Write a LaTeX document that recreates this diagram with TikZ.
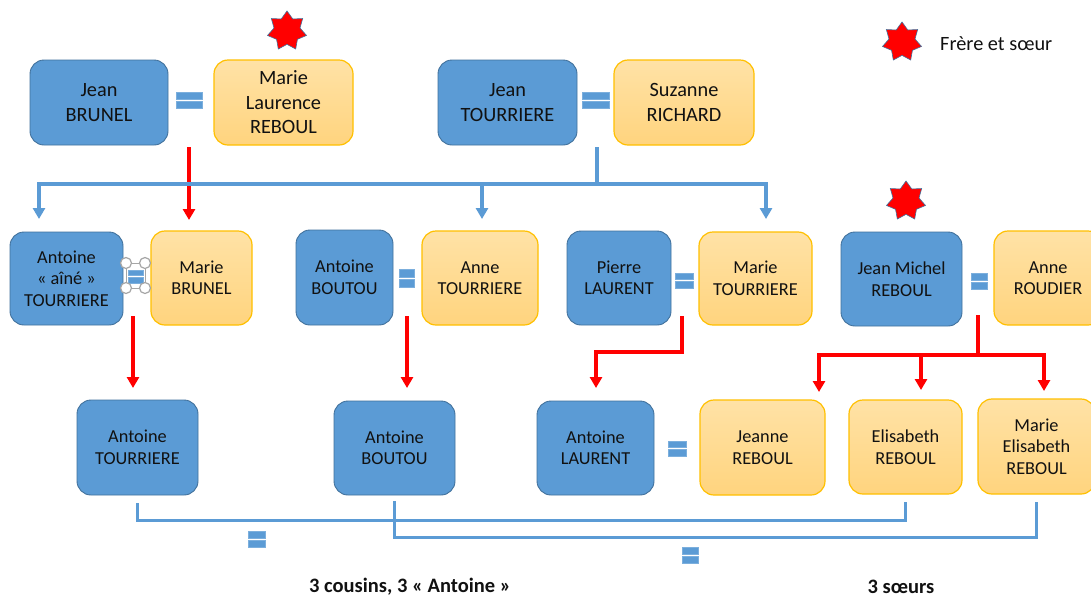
\documentclass[tikz,border=0pt]{standalone}
\usepackage{fontspec}
\setmainfont{Carlito}
\usetikzlibrary{shapes.geometric,arrows.meta}
\definecolor{pblue}{HTML}{5B9BD5}
\definecolor{pbluedk}{HTML}{41719C}
\definecolor{porange}{HTML}{FFC000}
\definecolor{otop}{HTML}{FFE2A6}
\definecolor{obot}{HTML}{FFD47E}
\definecolor{txt}{HTML}{111111}
\definecolor{hgray}{HTML}{A6A6A6}
\definecolor{pred}{HTML}{FF0000}
\newcommand\EqSgn[4]{%
  \path[eqbar] (#1,#3) rectangle (#2,{(#3+#4)/2-1});
  \path[eqbar] (#1,{(#3+#4)/2+1}) rectangle (#2,#4);}
\begin{document}
\begin{tikzpicture}[x=1pt,y=-1pt,
  box/.style={rounded corners=14pt, align=center, text=txt, inner sep=0pt,
    font=\fontsize{18.3}{21.5}\selectfont},
  bbox/.style={box, fill=pblue, draw=pbluedk, line width=0.9pt},
  obox/.style={box, draw=porange, line width=1.2pt, top color=otop, bottom color=obot},
  big/.style={font=\fontsize{20.3}{24.5}\selectfont},
  starsh/.style={star, star points=7, star point ratio=1.5, minimum size=40pt,
    inner sep=0pt, fill=pred, draw=pbluedk, line width=0.6pt},
  eqbar/.style={fill=pblue, draw=pblue!80!white, line width=0.4pt},
  redarr/.style={draw=pred, line width=3.3pt, -{Triangle[width=12pt,length=11pt]}},
  rline/.style={draw=pred, line width=3.3pt},
  bluearr/.style={draw=pblue, line width=3.3pt, -{Triangle[width=12pt,length=11pt]}},
  bline/.style={draw=pblue, line width=3.3pt},
  handle/.style={circle, draw=hgray, fill=white, line width=1.2pt, minimum size=11pt, inner sep=0pt},
  lbl/.style={text=txt, inner sep=0pt}
]
\clip (0,0) rectangle (1091,598);
\fill[white] (0,0) rectangle (1091,598);

% ---------- row 1
\node[bbox, big, minimum width=138pt, minimum height=85pt] (jb) at (99,102.5) {Jean\\BRUNEL};
\node[obox, big, minimum width=139pt, minimum height=85pt] (mlr) at (283.5,102.5) {Marie\\Laurence\\REBOUL};
\node[bbox, big, minimum width=139pt, minimum height=85pt] (jt) at (507.5,102.5) {Jean\\TOURRIERE};
\node[obox, big, minimum width=140pt, minimum height=85pt] (sr) at (684,102.5) {Suzanne\\RICHARD};
\EqSgn{176}{202}{92}{108}
\EqSgn{582}{609}{92}{108}
\node[starsh] (s1) at (287,31) {};

% legend
\node[starsh] (s3) at (902,42) {};
\node[lbl, anchor=west, font=\fontsize{20.3}{24}\selectfont] (leg) at (940,44) {Frère et sœur};

% ---------- row 2
\node[bbox, minimum width=113pt, minimum height=93pt] (aa) at (66.5,278.5) {Antoine\\« aîné »\\TOURRIERE};
\node[obox, minimum width=101pt, minimum height=94pt] (mb) at (201.5,278) {Marie\\BRUNEL};
\node[bbox, minimum width=97pt, minimum height=95pt] (ab) at (344.5,277.5) {Antoine\\BOUTOU};
\node[obox, minimum width=116pt, minimum height=94pt] (at) at (480,278) {Anne\\TOURRIERE};
\node[bbox, minimum width=104pt, minimum height=94pt] (pl) at (619,278) {Pierre\\LAURENT};
\node[obox, minimum width=113pt, minimum height=93pt] (mt) at (755.5,278.5) {Marie\\TOURRIERE};
\node[bbox, minimum width=121pt, minimum height=94pt] (jm) at (901.5,279) {Jean Michel\\REBOUL};
\node[obox, minimum width=108pt, minimum height=94pt] (ar) at (1048,278) {Anne\\ROUDIER};
\node[starsh] (s2) at (906,201) {};

% selection frame with handles
\draw[hgray, line width=1pt] (126,263) rectangle (145,288);
\EqSgn{128}{143}{270}{283}
\node[handle] (h1) at (126,263) {};
\node[handle] (h2) at (145,263) {};
\node[handle] (h3) at (126,288) {};
\node[handle] (h4) at (145,288) {};
\EqSgn{399}{414}{269}{287}
\EqSgn{675}{693}{273}{288}
\EqSgn{971}{987}{273}{289}

% ---------- row 3
\node[bbox, minimum width=121pt, minimum height=95pt] (at3) at (137.5,447.5) {Antoine\\TOURRIERE};
\node[bbox, minimum width=121pt, minimum height=94pt] (ab3) at (394.5,448) {Antoine\\BOUTOU};
\node[bbox, minimum width=117pt, minimum height=94pt] (al) at (595.5,448) {Antoine\\LAURENT};
\node[obox, minimum width=125pt, minimum height=95pt] (jr) at (762.5,447.5) {Jeanne\\REBOUL};
\node[obox, minimum width=113pt, minimum height=94pt] (er) at (905.5,447) {Elisabeth\\REBOUL};
\node[obox, minimum width=117pt, minimum height=95pt] (mer) at (1036.5,446.5) {Marie\\Elisabeth\\REBOUL};
\EqSgn{668}{686}{441}{456}

% ---------- connectors
% Brunel couple -> Marie BRUNEL
\coordinate (r1s) at (189,147);
\coordinate (r1t) at (189,220);
\draw[redarr] (r1s) -- (r1t);

% Tourriere couple -> children
\coordinate (bts) at (597,147);
\coordinate (bth) at (597,184);
\coordinate (bt1) at (39,219);
\coordinate (bt2) at (482,219);
\coordinate (bt3) at (766,219);
\draw[bline] (bts) -- (bth);
\draw[bluearr] (bth) -| (bt1);
\draw[bluearr] (bth) -| (bt2);
\draw[bluearr] (bth) -| (bt3);

% row 2 couples -> row 3
\coordinate (r2s) at (133,316);
\coordinate (r2t) at (133,388);
\draw[redarr] (r2s) -- (r2t);
\coordinate (r3s) at (407,316);
\coordinate (r3t) at (407,388);
\draw[redarr] (r3s) -- (r3t);
\coordinate (r4s) at (682,316);
\coordinate (r4h) at (682,352);
\coordinate (r4t) at (596,388);
\draw[redarr] (r4s) -- (r4h) -| (r4t);
\coordinate (r5s) at (978,315);
\coordinate (r5h) at (978,355);
\coordinate (r5a) at (819,392);
\coordinate (r5b) at (921,390);
\coordinate (r5c) at (1044,391);
\draw[rline] (r5s) -- (r5h);
\draw[redarr] (r5h) -| (r5a);
\draw[redarr] (r5h) -| (r5b);
\draw[redarr] (r5h) -| (r5c);

% cousins / sisters brackets
\draw[bline] ([yshift=-8pt]at3.south) -- ++(0,17) -| ([yshift=-7pt]er.south);
\draw[bline] ([yshift=-6pt]ab3.south) -- ++(0,36) -| ([yshift=-7pt]mer.south);
\EqSgn{248}{265}{531}{547}
\EqSgn{682}{698}{547}{563}

\node[lbl, font=\bfseries\fontsize{20.5}{24}\selectfont] (cap1) at (410,587) {3 cousins, 3 « Antoine »};
\node[lbl, font=\bfseries\fontsize{20.5}{24}\selectfont] (cap2) at (901,587) {3 sœurs};
\end{tikzpicture}
\end{document}
